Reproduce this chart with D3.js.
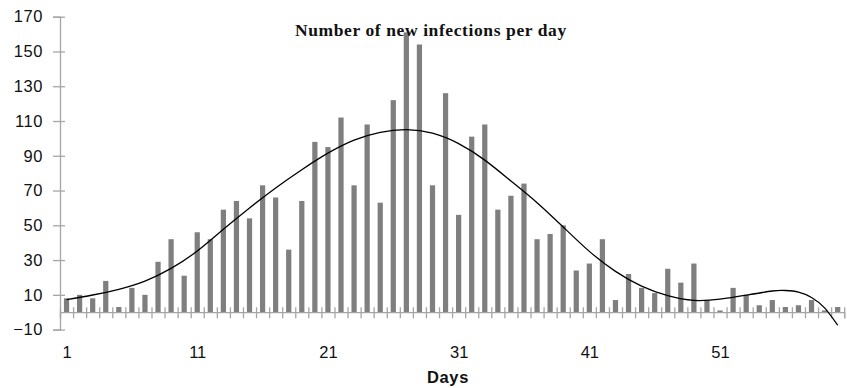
<!DOCTYPE html>
<html>
<head>
<meta charset="utf-8">
<script src="https://cdn.jsdelivr.net/npm/d3@7"></script>
<style>
  body { margin: 0; background: #fff; }
  svg { display: block; }
</style>
</head>
<body>
<svg id="chart" width="847" height="388"></svg>
<script>
// new infections per day, days 1..60
const days = d3.range(1, 61)
const cases = [
  8, 10, 8, 18, 3, 14, 10, 29, 42, 21,
  46, 42, 59, 64, 54, 73, 66, 36, 64, 98,
  95, 112, 73, 108, 63, 122, 161, 154, 73, 126,
  56, 101, 108, 59, 67, 74, 42, 45, 50, 24,
  28, 42, 7, 22, 14, 11, 25, 17, 28, 7,
  1, 14, 10, 4, 7, 3, 4, 7, 1, 3
]
// trend line
const trendDays = [1, 3, 5, 7, 9, 11, 13, 15, 17, 19, 21, 23, 25, 27, 29, 31, 33, 35, 37, 39, 41, 43, 45, 47, 49, 51, 53, 55, 56, 57, 58, 59, 60]
const trendVals = [7.2, 9.9, 13.2, 17.9, 25.2, 35.2, 47.7, 60, 71.5, 82, 91.5, 99, 103.5, 105, 103, 97, 87.5, 75.5, 63, 49, 35, 23.5, 15, 9.5, 6.8, 7.5, 9.8, 12.2, 12.5, 11.6, 8.5, 2.5, -7.5]
const yTicks = [-10, 10, 30, 50, 70, 90, 110, 130, 150, 170]
const xLabels = [1, 11, 21, 31, 41, 51]

const title = "Number of new infections per day"
const xTitle = "Days"

const svg = d3.select("#chart")
const plotLeft = 60, plotRight = 844.2, plotTop = 16.7, plotBottom = 329.6
const axisColor = "#a6a6a6"

var x = d3.scaleBand().domain(days).range([plotLeft, plotRight]).padding(0)
var xl = d3.scaleLinear().domain([0.5, 60.5]).range([plotLeft, plotRight])
var y = d3.scaleLinear().domain([-10, 170]).range([plotBottom, plotTop])

// bars
var bw = x.bandwidth() * 0.4
svg.append("g").selectAll("rect")
  .data(days)
  .join("rect")
  .attr("x", d => x(d) + x.bandwidth() / 2 - bw / 2)
  .attr("y", (d, i) => y(Math.max(cases[i], 0)))
  .attr("width", bw)
  .attr("height", (d, i) => Math.abs(y(cases[i]) - y(0)))
  .attr("fill", "#7f7f7f")

// x axis at zero, cross ticks on the category boundaries
var xAxis = svg.append("g")
  .attr("transform", "translate(0," + y(0) + ")")
  .call(d3.axisBottom(xl).tickValues(d3.range(0.5, 61, 1)).tickSize(6).tickFormat(""))
xAxis.select(".domain").attr("stroke", axisColor).attr("stroke-width", 1.3)
xAxis.selectAll(".tick line").attr("y1", -5).attr("stroke", axisColor).attr("stroke-width", 1.3)

// x labels
var xLab = svg.append("g")
  .attr("transform", "translate(0,346.6)")
  .call(d3.axisBottom(xl).tickValues(xLabels).tickSize(0).tickPadding(0))
xLab.select(".domain").remove()
xLab.selectAll("text")
  .attr("font-family", "Liberation Sans, Arial, sans-serif")
  .attr("font-size", 16.5)
  .attr("fill", "#111")

// y axis
var yAxis = svg.append("g")
  .attr("transform", "translate(" + plotLeft + ",0)")
  .call(d3.axisLeft(y).tickValues(yTicks).tickSize(7).tickPadding(10))
yAxis.select(".domain").attr("stroke", axisColor).attr("stroke-width", 1.3)
yAxis.selectAll(".tick line").attr("x1", 5).attr("stroke", axisColor).attr("stroke-width", 1.3)
yAxis.selectAll("text")
  .attr("font-family", "Liberation Sans, Arial, sans-serif")
  .attr("font-size", 16.5)
  .attr("letter-spacing", 0.6)
  .attr("fill", "#111")

// trend line
var line = d3.line()
  .x((d, i) => xl(trendDays[i]))
  .y(d => y(d))
  .curve(d3.curveNatural)
svg.append("path")
  .datum(trendVals)
  .attr("d", line)
  .attr("fill", "none")
  .attr("stroke", "#000")
  .attr("stroke-width", 1.3)

// titles
svg.append("text")
  .attr("x", 295)
  .attr("y", 35.7)
  .attr("font-family", "Liberation Serif, Times New Roman, serif")
  .attr("font-weight", "bold")
  .attr("font-size", 17.5)
  .attr("letter-spacing", 0.6)
  .attr("fill", "#111")
  .text(title)

svg.append("text")
  .attr("x", 448)
  .attr("y", 382.7)
  .attr("text-anchor", "middle")
  .attr("font-family", "Liberation Sans, Arial, sans-serif")
  .attr("font-weight", "bold")
  .attr("font-size", 16.5)
  .attr("letter-spacing", 0.6)
  .attr("fill", "#111")
  .text(xTitle)
</script>
</body>
</html>
